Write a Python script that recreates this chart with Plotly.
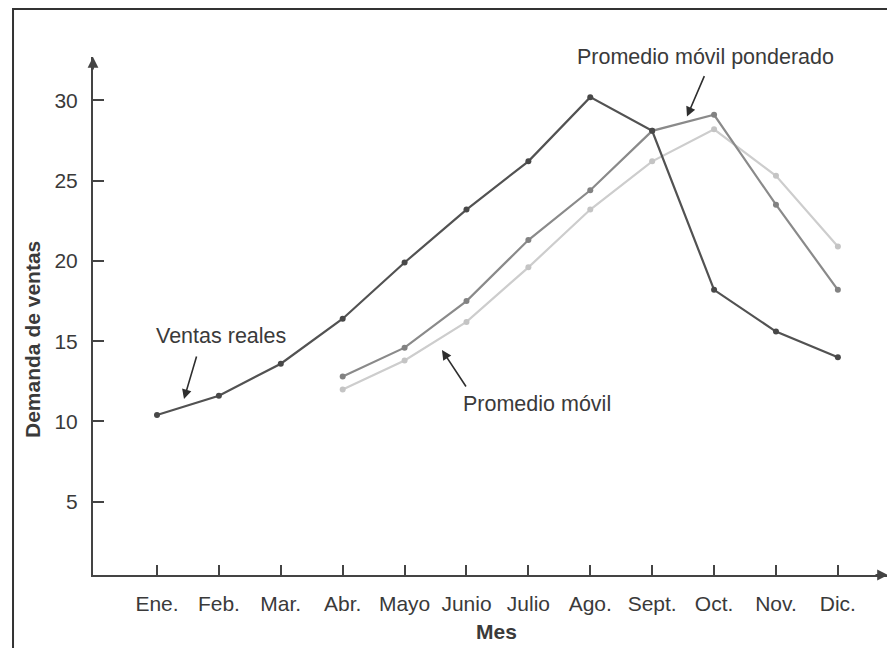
import plotly.graph_objects as go

meses = ["Ene.", "Feb.", "Mar.", "Abr.", "Mayo", "Junio", "Julio", "Ago.", "Sept.", "Oct.", "Nov.", "Dic."]
ventas_reales = [10.4, 11.6, 13.6, 16.4, 19.9, 23.2, 26.2, 30.2, 28.1, 18.2, 15.6, 14.0]
promedio_movil = [None, None, None, 12.0, 13.8, 16.2, 19.6, 23.2, 26.2, 28.2, 25.3, 20.9]
promedio_ponderado = [None, None, None, 12.8, 14.6, 17.5, 21.3, 24.4, 28.1, 29.1, 23.5, 18.2]
y_ticks = [5, 10, 15, 20, 25, 30]

x_idx = list(range(len(meses)))
FONT = "Liberation Sans, Arial, sans-serif"
TXT = "#3a3a3a"
FS = 21
FA = 21.5

fig = go.Figure()
fig.add_trace(go.Scatter(x=x_idx, y=promedio_movil, mode="lines+markers",
                         line=dict(color="#cdcdcd", width=2.2),
                         marker=dict(color="#c4c4c4", size=6), showlegend=False))
fig.add_trace(go.Scatter(x=x_idx, y=promedio_ponderado, mode="lines+markers",
                         line=dict(color="#8a8a8a", width=2.2),
                         marker=dict(color="#828282", size=6), showlegend=False))
fig.add_trace(go.Scatter(x=x_idx, y=ventas_reales, mode="lines+markers",
                         line=dict(color="#525252", width=2.2),
                         marker=dict(color="#484848", size=6), showlegend=False))

annotations = [
    # text labels
    dict(x=1.03, y=15.33, text="Ventas reales", showarrow=False, xanchor="center", yanchor="middle",
         font=dict(size=FA, color=TXT, family=FONT)),
    dict(x=6.14, y=11.09, text="Promedio móvil", showarrow=False, xanchor="center", yanchor="middle",
         font=dict(size=FA, color=TXT, family=FONT)),
    dict(xref="paper", yref="paper", x=0.770, y=1.0, xanchor="center", yanchor="middle",
         text="Promedio móvil ponderado", showarrow=False, font=dict(size=FA, color=TXT, family=FONT)),
    # arrows
    dict(x=0.436, y=11.40, ax=13, ay=-44, text="", showarrow=True, arrowhead=2, arrowsize=1.2, arrowwidth=1.6, arrowcolor="#2e2e2e"),
    dict(x=4.604, y=14.45, ax=25, ay=38, text="", showarrow=True, arrowhead=2, arrowsize=1.2, arrowwidth=1.6, arrowcolor="#2e2e2e"),
    dict(x=8.562, y=28.99, ax=18, ay=-42, text="", showarrow=True, arrowhead=2, arrowsize=1.2, arrowwidth=1.6, arrowcolor="#2e2e2e"),
    # axis titles
    dict(xref="paper", yref="paper", x=-0.0755, y=0.4556, xanchor="center", yanchor="middle",
         text="<b>Demanda de ventas</b>", textangle=-90,
         showarrow=False, font=dict(size=FS, color=TXT, family=FONT)),
    dict(xref="paper", yref="paper", x=0.508, y=-0.110, xanchor="center", yanchor="middle",
         text="<b>Mes</b>", showarrow=False, font=dict(size=FS, color=TXT, family=FONT)),
    # axis arrowheads
    dict(xref="paper", yref="paper", x=1.0, y=0.0, ax=-14, ay=0, text="", showarrow=True,
         arrowhead=2, arrowsize=1.2, arrowwidth=1.8, arrowcolor="#444444"),
    dict(xref="paper", yref="paper", x=0.0, y=1.0, ax=0, ay=14, text="", showarrow=True,
         arrowhead=2, arrowsize=1.2, arrowwidth=1.8, arrowcolor="#444444"),
]

fig.update_layout(
    width=895, height=648,
    margin=dict(l=85, r=15, t=49, b=81, autoexpand=False),
    paper_bgcolor="white", plot_bgcolor="white",
    annotations=annotations,
    shapes=[dict(type="rect", xref="paper", yref="paper",
                 x0=-0.1006, x1=1.03, y0=-0.18, y1=1.0927,
                 line=dict(color="#333333", width=2), layer="above")],
    font=dict(family=FONT, color=TXT, size=FS),
)
fig.update_xaxes(range=[-1.034, 11.81], tickmode="array", tickvals=x_idx, ticktext=meses,
                 showgrid=False, zeroline=False, showline=True, linecolor="#444444", linewidth=2,
                 ticks="inside", ticklen=10, tickwidth=1.5, tickcolor="#444444", automargin=False,
                 ticklabelstandoff=9, tickfont=dict(size=FS, color=TXT, family=FONT))
fig.update_yaxes(range=[0.44, 32.7], tickmode="array", tickvals=y_ticks,
                 showgrid=False, zeroline=False, showline=True, linecolor="#444444", linewidth=2,
                 ticks="inside", ticklen=11, tickwidth=1.5, tickcolor="#444444", automargin=False,
                 ticklabelstandoff=9, tickfont=dict(size=FS, color=TXT, family=FONT))

fig.write_html("out.html")
